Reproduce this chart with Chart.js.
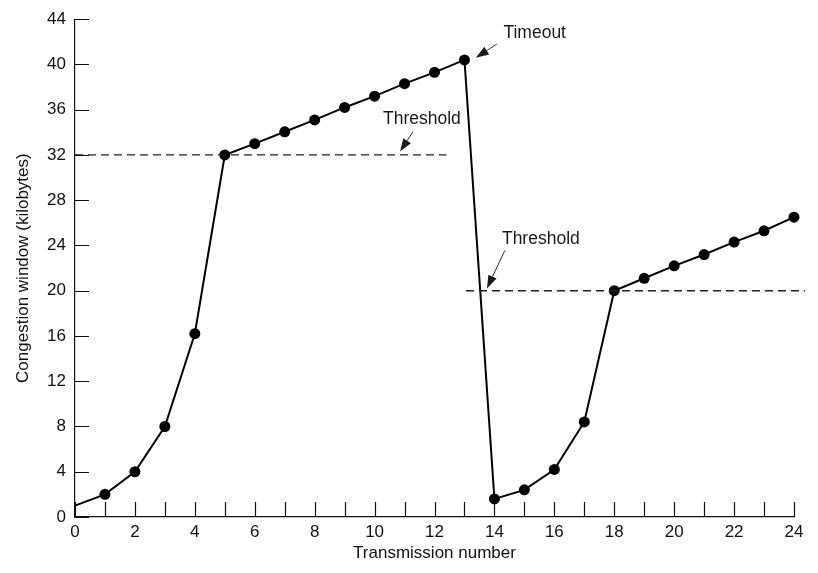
<!DOCTYPE html>
<html>
<head>
<meta charset="utf-8">
<script src="https://cdn.jsdelivr.net/npm/chart.js@4.4.1/dist/chart.umd.min.js"></script>
<style>
html,body{margin:0;padding:0;background:#fff;}
#wrap{width:818px;height:573px;position:relative;}
</style>
</head>
<body>
<div id="wrap"><canvas id="c" width="818" height="573"></canvas></div>
<script>
// ---- data ----
const transmissions = [0,1,2,3,4,5,6,7,8,9,10,11,12,13,14,15,16,17,18,19,20,21,22,23,24];
const windowKB = [1,2,4,8,16.2,32,33,34.05,35.1,36.2,37.2,38.3,39.3,40.4,1.6,2.4,4.2,8.4,20,21.1,22.2,23.2,24.3,25.3,26.5];
const threshold1X = [0,12.4];
const threshold1Y = [32,32];
const threshold2X = [13.05,24.37];
const threshold2Y = [20,20];
const yTicks = [0,4,8,12,16,20,24,28,32,36,40,44];
const xLabelTicks = [0,2,4,6,8,10,12,14,16,18,20,22,24];
const xMinorTicks = [0,1,2,3,4,5,6,7,8,9,10,11,12,13,14,15,16,17,18,19,20,21,22,23,24];
// annotations: label, text anchor (x,y), arrow start (x,y), arrow tip (x,y), alignment
const annLabels = ["Timeout","Threshold","Threshold"];
const annTextX = [14.3,11.58,15.55];
const annTextY = [42.8,35.2,24.6];
const annAlign = ["left","center","center"];
const annFromX = [14.08,11.28,14.35];
const annFromY = [41.8,34.05,23.57];
const annToX = [13.38,10.85,13.75];
const annToY = [40.6,32.3,20.2];

const FONT = '"Liberation Sans", Arial, Helvetica, sans-serif';

const mainData = transmissions.map((t,i)=>({x:t,y:windowKB[i]}));
const th1 = threshold1X.map((t,i)=>({x:t,y:threshold1Y[i]}));
const th2 = threshold2X.map((t,i)=>({x:t,y:threshold2Y[i]}));

const tickPlugin = {
  id:'inwardTicks',
  afterDatasetsDraw(chart){
    const {ctx, scales:{x,y}} = chart;
    ctx.save();
    ctx.strokeStyle = '#111';
    ctx.lineWidth = 1.2;
    const y0 = y.getPixelForValue(0);
    const x0 = x.getPixelForValue(0);
    ctx.beginPath();
    xMinorTicks.forEach(v=>{
      const px = Math.round(x.getPixelForValue(v))+0.5;
      ctx.moveTo(px,y0); ctx.lineTo(px,y0-15);
    });
    yTicks.forEach(v=>{
      const py = Math.round(y.getPixelForValue(v))+0.5;
      ctx.moveTo(x0,py); ctx.lineTo(x0+14,py);
    });
    ctx.stroke();
    // annotations
    ctx.font = '17.5px ' + FONT;
    ctx.textBaseline = 'middle';
    annLabels.forEach((lab,i)=>{
      ctx.textAlign = annAlign[i];
      ctx.fillStyle = '#1a1a1a';
      ctx.fillText(lab, x.getPixelForValue(annTextX[i]), y.getPixelForValue(annTextY[i]));
      const fx = x.getPixelForValue(annFromX[i]), fy = y.getPixelForValue(annFromY[i]);
      const tx = x.getPixelForValue(annToX[i]), ty = y.getPixelForValue(annToY[i]);
      const ang = Math.atan2(ty-fy, tx-fx);
      const headLen = 13, headW = 4.5;
      const bx = tx - headLen*Math.cos(ang), by = ty - headLen*Math.sin(ang);
      ctx.strokeStyle = '#333';
      ctx.lineWidth = 1;
      ctx.beginPath(); ctx.moveTo(fx,fy); ctx.lineTo(bx,by); ctx.stroke();
      ctx.beginPath();
      ctx.moveTo(tx,ty);
      ctx.lineTo(bx + headW*Math.sin(ang), by - headW*Math.cos(ang));
      ctx.lineTo(bx - headW*Math.sin(ang), by + headW*Math.cos(ang));
      ctx.closePath();
      ctx.fill();
    });
    ctx.restore();
  }
};

new Chart(document.getElementById('c'), {
  type:'line',
  data:{
    datasets:[
      {data:th1, borderColor:'#222', borderWidth:1.3, borderDash:[8,5], pointRadius:0, fill:false, tension:0, clip:false},
      {data:th2, borderColor:'#222', borderWidth:1.3, borderDash:[8,5], pointRadius:0, fill:false, tension:0, clip:false},
      {data:mainData, borderColor:'#000', borderWidth:2, tension:0, fill:false,
       pointRadius:(c)=> c.dataIndex===0 ? 0 : 5.5,
       pointBackgroundColor:'#000', pointBorderColor:'#000', pointBorderWidth:0, clip:false}
    ]
  },
  options:{
    responsive:false,
    animation:false,
    devicePixelRatio:1,
    layout:{padding:{left:0,right:24,top:18,bottom:0}},
    plugins:{legend:{display:false}, tooltip:{enabled:false}},
    scales:{
      x:{
        type:'linear', min:0, max:24,
        afterBuildTicks:(s)=>{ s.ticks = xLabelTicks.map(v=>({value:v})); },
        afterFit:(s)=>{ s.height = 56; },
        grid:{display:false, drawTicks:false},
        border:{display:true, color:'#111', width:1.2},
        ticks:{color:'#111', font:{family:FONT, size:17}, padding:5, maxRotation:0, autoSkip:false},
        title:{display:true, text:'Transmission number', color:'#111', font:{family:FONT, size:17}, padding:{top:2,bottom:9}}
      },
      y:{
        type:'linear', min:0, max:44,
        afterBuildTicks:(s)=>{ s.ticks = yTicks.map(v=>({value:v})); },
        afterFit:(s)=>{ s.width = 75; },
        grid:{display:false, drawTicks:false},
        border:{display:true, color:'#111', width:1.2},
        ticks:{color:'#111', font:{family:FONT, size:17}, padding:9, autoSkip:false},
        title:{display:true, text:'Congestion window (kilobytes)', color:'#111', font:{family:FONT, size:17}, padding:{top:13,bottom:0}}
      }
    }
  },
  plugins:[tickPlugin]
});
</script>
</body>
</html>
